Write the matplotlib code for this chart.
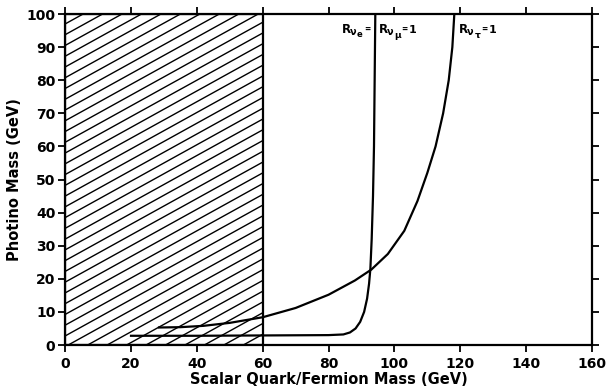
import numpy as np
import matplotlib.pyplot as plt
from matplotlib.patches import Rectangle

# excluded region (hatched)
excl_x = [0, 60]
excl_y = [0, 100]

# R_nu_e = R_nu_mu = 1 contour
nu_x = [20, 40, 60, 80, 84.5, 86.5, 88.2, 89.6, 90.8, 91.7, 92.3, 92.7, 93.1, 93.5, 93.8, 94.0, 94.2]
nu_y = [2.8, 2.8, 2.9, 3.0, 3.2, 3.8, 5.0, 7.0, 10.0, 14.0, 18.5, 23.0, 32.0, 45.0, 60.0, 80.0, 100.0]

# R_nu_tau = 1 contour
tau_x = [28.5, 35, 42, 50, 60, 70, 80, 88, 93, 98, 103, 107, 110, 112.5, 114.8, 116.5, 117.6, 118.2]
tau_y = [5.3, 5.4, 5.8, 6.7, 8.4, 11.2, 15.2, 19.5, 22.8, 27.5, 34.5, 43.5, 52.0, 60.0, 70.0, 80.0, 90.0, 100.0]

plt.rcParams['font.family'] = 'DejaVu Sans'
plt.rcParams['font.weight'] = 'bold'
fig = plt.figure(figsize=(6.09, 3.89), dpi=100)
ax = fig.add_axes([0.107, 0.113, 0.865, 0.851])

# hatched box, lines drawn clipped to it
box = Rectangle((excl_x[0], excl_y[0]), excl_x[1] - excl_x[0], excl_y[1] - excl_y[0],
                facecolor='none', edgecolor='black', linewidth=1.6, zorder=3)
ax.add_patch(box)
slope = 0.55
step = 3.25
xs = np.array(excl_x, dtype=float)
for c in np.arange(excl_y[0] - slope * excl_x[1], excl_y[1] + step, step):
    ln, = ax.plot(xs, slope * xs + c, color='black', lw=1.0, zorder=2)
    ln.set_clip_path(box)

ax.plot(nu_x, nu_y, color='black', lw=1.6, zorder=4)
ax.plot(tau_x, tau_y, color='black', lw=1.6, zorder=4)

# curve labels built from pieces: (text, dx px, dy px, size)
label_pieces = [('R', 0, 0, 8.5), ('ν', 8, -2.5, 7), ('e', 15, -4.5, 6), ('=', 23, 1, 5.5),
                ('R', 37.5, 0, 8.5), ('ν', 45.5, -2.5, 7), ('μ', 52.5, -5, 6.5),
                ('=', 59.5, 1, 5.5), ('1', 66.5, 0, 8),
                ('R', 117.6, 0, 8.5), ('ν', 125.5, -2.5, 7), ('τ', 133, -5, 6.5),
                ('=', 140, 1, 5.5), ('1', 147, 0, 8)]
for txt, dx, dy, sz in label_pieces:
    ax.annotate(txt, xy=(84.0, 94.3), xytext=(dx * 0.72, dy * 0.72), textcoords='offset points',
                fontsize=sz, fontweight='bold', ha='left', va='baseline')

ax.set_xlim(0, 160)
ax.set_ylim(0, 100)
ax.set_xticks(range(0, 161, 20))
ax.set_yticks(range(0, 101, 10))
ax.tick_params(direction='out', length=5, width=1.3, pad=2, top=True, right=True, labelsize=10)
ax.tick_params(axis='x', pad=3.5)
for s in ax.spines.values():
    s.set_linewidth(1.6)
ax.set_xlabel('Scalar Quark/Fermion Mass (GeV)', fontsize=10.5, fontweight='bold', labelpad=1)
ax.set_ylabel('Photino Mass (GeV)', fontsize=10.5, fontweight='bold', labelpad=3)

fig.savefig('out.png', dpi=100)
